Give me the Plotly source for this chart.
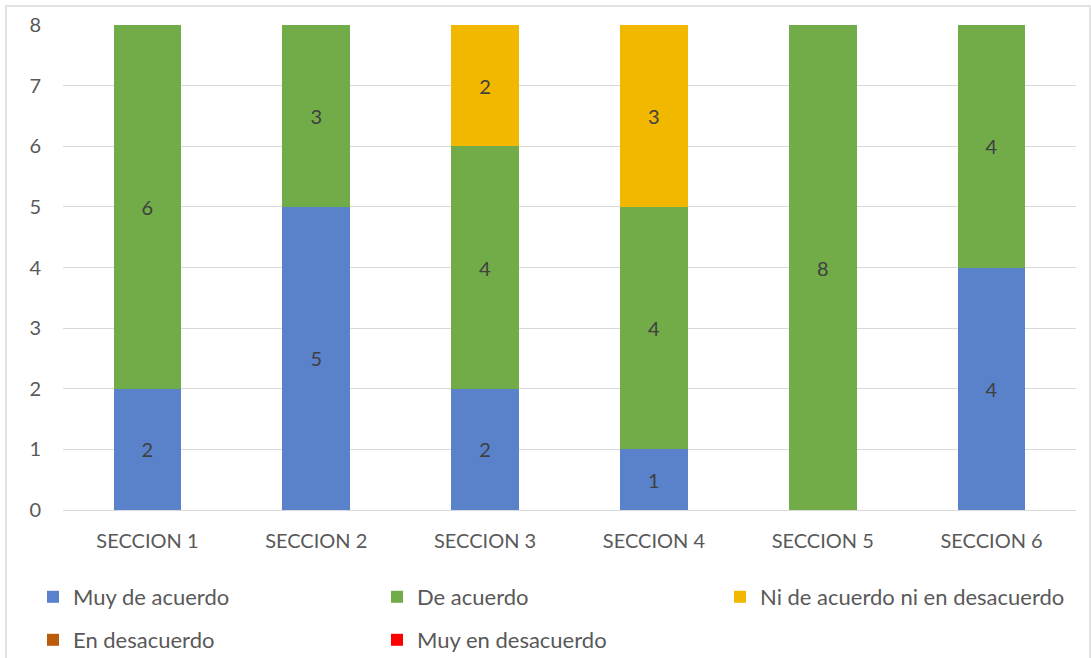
import plotly.graph_objects as go

categories = ["SECCION 1", "SECCION 2", "SECCION 3", "SECCION 4", "SECCION 5", "SECCION 6"]
muy_de_acuerdo = [2, 5, 2, 1, 0, 4]
de_acuerdo = [6, 3, 4, 4, 8, 4]
ni_ni = [0, 0, 2, 3, 0, 0]
en_desacuerdo = [0, 0, 0, 0, 0, 0]
muy_en_desacuerdo = [0, 0, 0, 0, 0, 0]
y_ticks = [0, 1, 2, 3, 4, 5, 6, 7, 8]

series = [
    ("Muy de acuerdo", muy_de_acuerdo, "#5A82CA"),
    ("De acuerdo", de_acuerdo, "#71AC48"),
    ("Ni de acuerdo ni en desacuerdo", ni_ni, "#F2B800"),
    ("En desacuerdo", en_desacuerdo, "#BA5A0B"),
    ("Muy en desacuerdo", muy_en_desacuerdo, "#FF0000"),
]

W, H = 1091, 658
L, R, T, B = 63, 15, 25, 148
pw, ph = W - L - R, H - T - B

def px_x(x):
    return (x - L) / pw

def px_y(y):
    return (H - B - y) / ph

# legend box left edge (px) and row centre (px)
legend_pos = [(33, 597), (377, 597), (720, 597), (33, 640), (377, 640)]

FONT = "Lato, 'Open Sans', sans-serif"
fig = go.Figure()
layout_legends = {}
for i, (name, vals, col) in enumerate(series):
    lname = "legend" if i == 0 else f"legend{i+1}"
    fig.add_trace(go.Bar(
        name=name, x=categories, y=vals,
        marker=dict(color=col, line=dict(width=0)),
        text=[str(v) if v else "" for v in vals],
        textposition="inside", insidetextanchor="middle",
        textfont=dict(color="#404040", size=20, family=FONT),
        textangle=0,
        legend=lname,
        showlegend=True,
    ))
    lx, ly = legend_pos[i]
    layout_legends[lname] = dict(
        x=px_x(lx), y=px_y(ly), xanchor="left", yanchor="middle",
        font=dict(size=22, color="#595959", family=FONT),
        bgcolor="rgba(0,0,0,0)", itemwidth=30, visible=True,
    )

fig.update_layout(
    width=W, height=H,
    margin=dict(l=L, r=R, t=T, b=B, autoexpand=False),
    showlegend=True,
    barmode="stack", bargap=0.6,
    plot_bgcolor="white", paper_bgcolor="white",
    font=dict(family=FONT, color="#595959", size=20),
    uniformtext=dict(mode="show", minsize=10),
    xaxis=dict(showgrid=False, showline=False, ticks="", ticklabelstandoff=17,
               tickfont=dict(size=20, color="#595959", family=FONT)),
    yaxis=dict(range=[0, 8], tickvals=y_ticks, showgrid=True, gridcolor="#D9D9D9",
               gridwidth=1, zeroline=True, zerolinecolor="#D9D9D9", zerolinewidth=1,
               showline=False, ticks="", ticklabelstandoff=21,
               tickfont=dict(size=20, color="#595959", family=FONT)),
    shapes=[dict(type="rect", xref="paper", yref="paper",
                 x0=px_x(6), x1=px_x(1090), y0=px_y(6), y1=px_y(662),
                 line=dict(color="#D9D9D9", width=1.5), fillcolor="rgba(0,0,0,0)", layer="below")],
    **layout_legends,
)

fig.write_html("out.html")
